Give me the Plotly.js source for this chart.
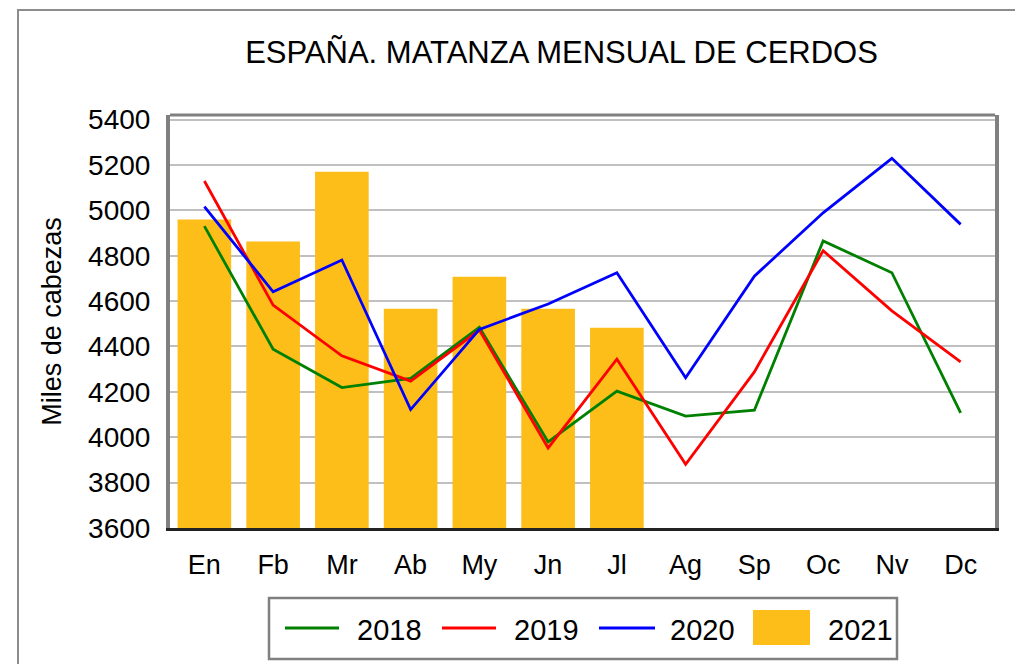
<!DOCTYPE html>
<html>
<head>
<meta charset="utf-8">
<script src="https://cdn.plot.ly/plotly-3.0.1.min.js"></script>
<style>html,body{margin:0;padding:0;background:#fff;}#chart{width:1015px;height:664px;}</style>
</head>
<body>
<div id="chart"></div>
<script>
const months = ["En","Fb","Mr","Ab","My","Jn","Jl","Ag","Sp","Oc","Nv","Dc"];
const s2018 = [4930,4388,4219,4259,4484,3979,4203,4093,4119,4865,4725,4107];
const s2019 = [5129,4582,4359,4247,4472,3953,4344,3881,4288,4822,4557,4332];
const s2020 = [5016,4641,4781,4122,4475,4587,4725,4262,4710,4989,5229,4938];
const months2021 = ["En","Fb","Mr","Ab","My","Jn","Jl"];
const s2021 = [4960,4862,5170,4566,4707,4566,4482];
const seriesNames = ["2018","2019","2020","2021"];
const lineColors = ["#008000","#FF0000","#0000FF"];
const barColor = "#FDBE1A";

const FONT = "Liberation Sans, Arial, sans-serif";
const W = 1015, H = 664, ML = 170, MR = 20, MT = 115, MB = 136;
const PW = W - ML - MR, PH = H - MT - MB;
const px = x => (x - ML) / PW;
const py = y => (H - MB - y) / PH;

const traces = [
  {type:"bar", x: months2021, y: s2021, name: seriesNames[3], marker:{color: barColor}, width: 0.78, showlegend:false},
  {type:"scatter", mode:"lines", x: months, y: s2018, name: seriesNames[0], line:{color: lineColors[0], width: 2.8}, showlegend:false},
  {type:"scatter", mode:"lines", x: months, y: s2019, name: seriesNames[1], line:{color: lineColors[1], width: 2.8}, showlegend:false},
  {type:"scatter", mode:"lines", x: months, y: s2020, name: seriesNames[2], line:{color: lineColors[2], width: 2.8}, showlegend:false}
];

const shapes = [
  // outer frame
  {type:"rect", xref:"paper", yref:"paper", x0: px(18), x1: px(1030), y0: py(680), y1: py(10), line:{color:"#8c8c8c", width:2}, layer:"below"},
  // plot frame top
  {type:"line", xref:"paper", yref:"paper", x0: 0, x1: 1, y0: 1, y1: 1, line:{color:"#808080", width:3}},
  // legend box
  {type:"rect", xref:"paper", yref:"paper", x0: px(269), x1: px(897), y0: py(659), y1: py(598), line:{color:"#808080", width:2.5}},
  // legend symbols
  {type:"line", xref:"paper", yref:"paper", x0: px(285), x1: px(339), y0: py(628), y1: py(628), line:{color: lineColors[0], width:3}},
  {type:"line", xref:"paper", yref:"paper", x0: px(442), x1: px(496), y0: py(628), y1: py(628), line:{color: lineColors[1], width:3}},
  {type:"line", xref:"paper", yref:"paper", x0: px(599), x1: px(655), y0: py(628), y1: py(628), line:{color: lineColors[2], width:3}},
  {type:"rect", xref:"paper", yref:"paper", x0: px(753), x1: px(810), y0: py(645), y1: py(610), fillcolor: barColor, line:{width:0}}
];

const legendX = [355, 512, 668, 826];
const annotations = seriesNames.map((n,i) => ({
  xref:"paper", yref:"paper", x: px(legendX[i]), y: py(630), xanchor:"left", yanchor:"middle",
  text: n, showarrow:false, font:{family: FONT, size: 29, color:"#000"}
}));

const layout = {
  width: W, height: H,
  margin: {l: ML, r: MR, t: MT, b: MB, pad: 0},
  paper_bgcolor: "#fff", plot_bgcolor: "#fff",
  font: {family: FONT, color: "#000"},
  title: {text: "ESPAÑA. MATANZA MENSUAL DE CERDOS", x: 561.5/W, xanchor:"center", y: 1 - 52/H, yanchor:"middle",
          font:{family: FONT, size: 31, color:"#000"}},
  xaxis: {type:"category", categoryorder:"array", categoryarray: months, range:[-0.5, 11.5],
          showgrid:false, showline:true, linecolor:"#222", linewidth:3, ticks:"", ticklabelstandoff: 11,
          tickfont:{family: FONT, size: 27, color:"#000"}, fixedrange:true},
  yaxis: {range:[3600, 5420], tick0: 3600, dtick: 200, showgrid:true, gridcolor:"#c0c0c0", gridwidth:2,
          showline:true, mirror:true, linecolor:"#808080", linewidth:4, ticks:"", ticklabelstandoff: 10,
          zeroline:false, tickfont:{family: FONT, size: 28, color:"#000"},
          title:{text:"Miles de cabezas", font:{family: FONT, size: 27, color:"#000"}, standoff: 20}},
  bargap: 0.22,
  shapes: shapes,
  annotations: annotations,
  showlegend: false
};

Plotly.newPlot("chart", traces, layout, {displayModeBar:false, staticPlot:true});
</script>
</body>
</html>
